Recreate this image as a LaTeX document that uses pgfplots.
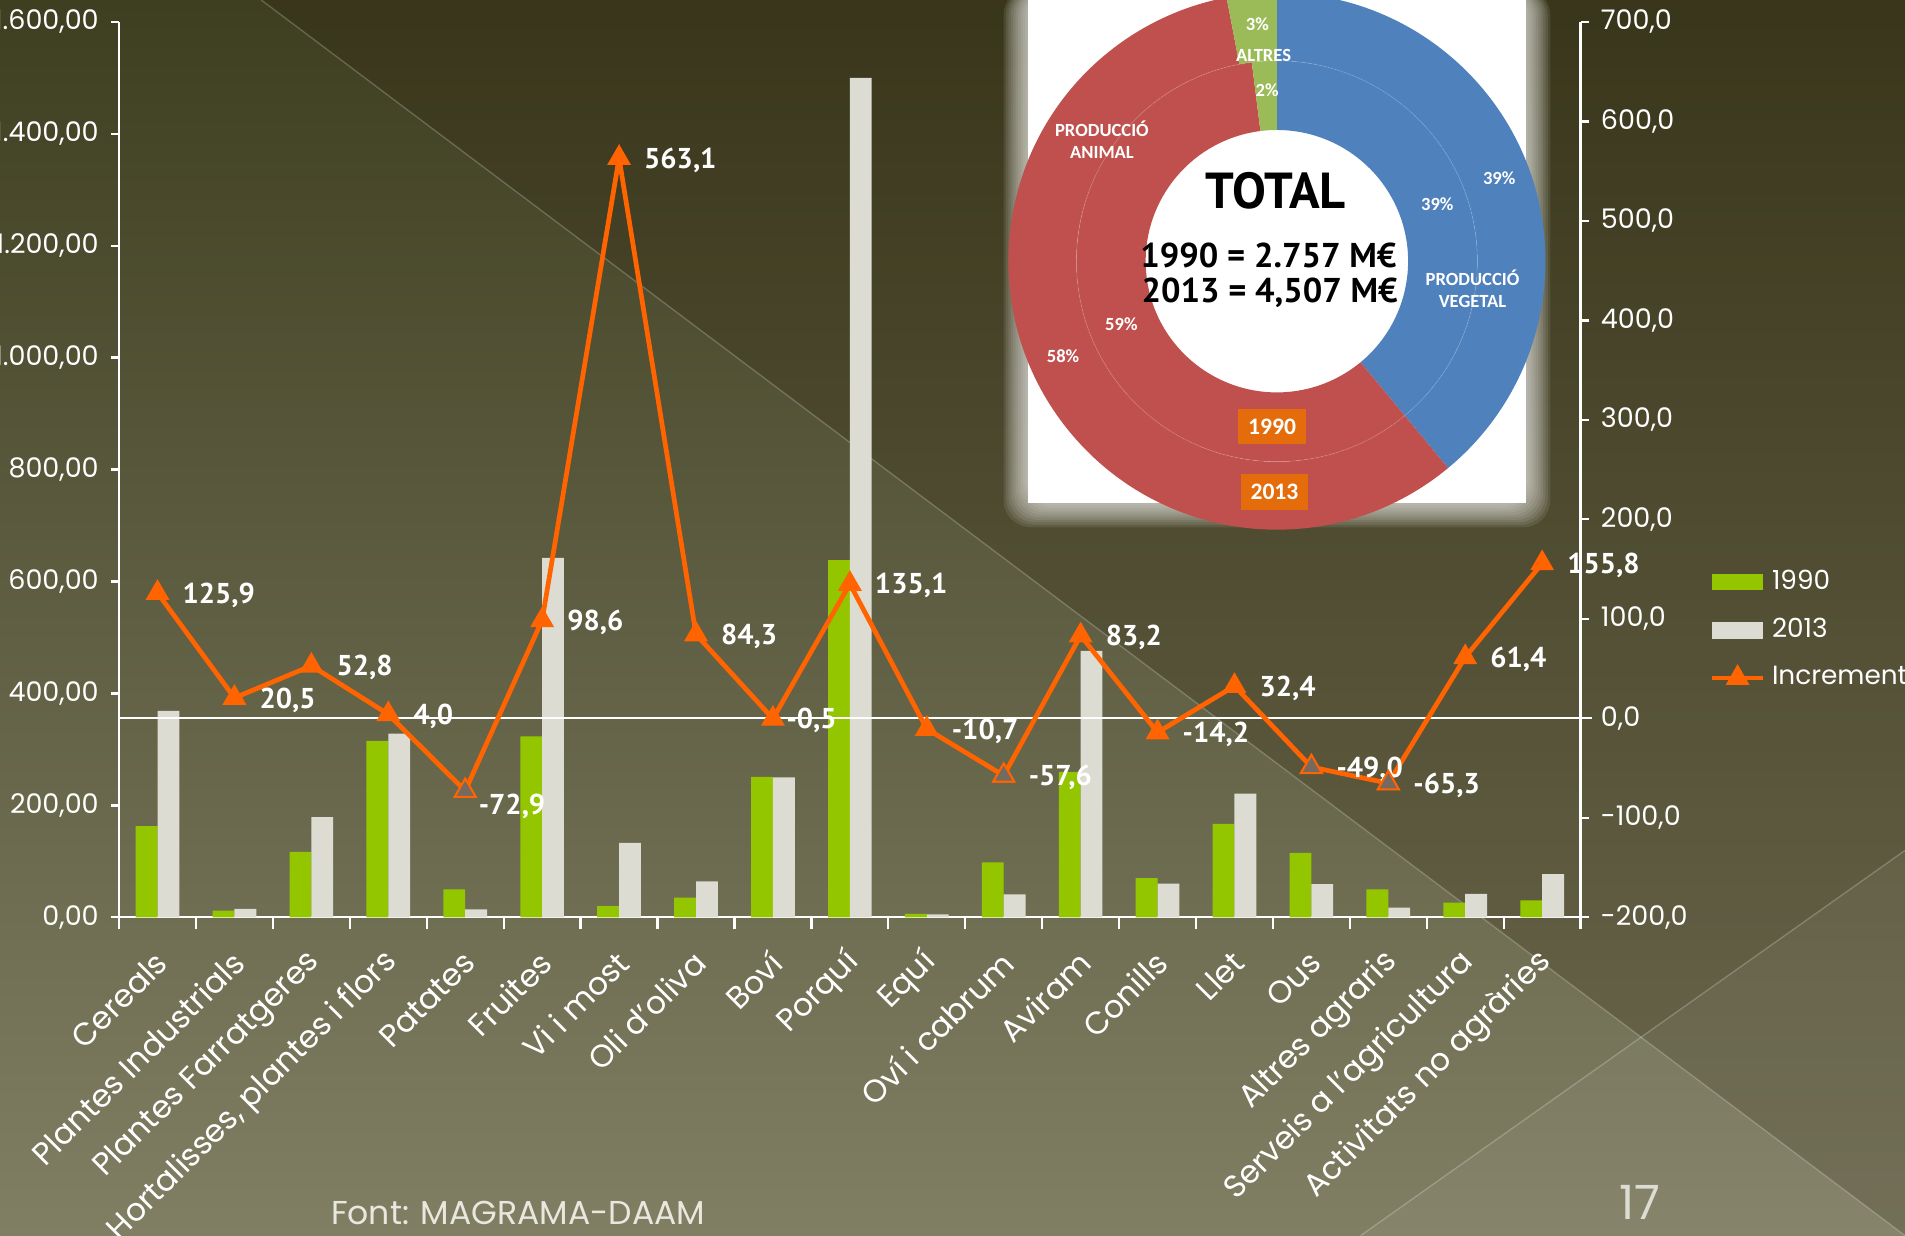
\documentclass[border=0pt]{standalone}
\usepackage{fontspec}
\setmainfont{Poppins}
\newfontfamily\ptsans{PT Sans}
\newfontfamily\carlito{Carlito}
\usepackage{pgfplots}
\usepackage{pgfplotstable}
\pgfplotsset{compat=1.18}

\definecolor{bgtop}{HTML}{3E3E21}
\definecolor{bgbot}{HTML}{807F64}
\definecolor{c1990}{HTML}{94C600}
\definecolor{c2013}{HTML}{DCDCD2}
\definecolor{incr}{HTML}{FF6400}
\definecolor{gmark}{HTML}{746A60}
\definecolor{pvblue}{HTML}{4F81BD}
\definecolor{pared}{HTML}{C0504D}
\definecolor{altgreen}{HTML}{9BBB59}
\definecolor{boxor}{HTML}{E46C0A}

\pgfplotsset{
  barlegend/.style={legend image code/.code={\fill[##1, draw=none] (0pt,-2.4pt) rectangle (15pt,2.4pt);}},
  linelegend/.style={legend image code/.code={\draw[mark repeat=2, mark phase=2, ##1] plot coordinates {(0pt,0pt) (7.5pt,0pt) (15pt,0pt)};}},
}

% valor de la producció (M EUR), increment (%) i desplaçament de l'etiqueta (pt)
\pgfplotstableread{
x v1990 v2013 incr lx ly
0  163  369  125.9 7.2 -0.6
1  12   15   20.5  7.2 -0.6
2  117  179  52.8  7.2 -0.6
3  315  328  4.0   7.2 -0.6
4  50   14   -72.9 3.8 -4.6
5  323  642  98.6  7.2 -0.6
6  20   133  563.1 7.2 -0.6
7  35   64   84.3  7.2 -0.6
8  251  250  -0.5  3.8 -0.6
9  638  1500 135.1 7.2 -0.6
10 6    5    -10.7 7.2 -0.6
11 98   41   -57.6 7.2 -0.6
12 260  476  83.2  7.2 -0.6
13 70   60   -14.2 7.2 -0.6
14 167  221  32.4  7.2 -0.6
15 115  59   -49.0 7.2 -0.6
16 50   17   -65.3 7.2 -0.6
17 26   42   61.4  7.2 -0.6
18 30   77   155.8 7.2 -0.6
}\data

% percentatges del gràfic de donut
\def\pvO{39}\def\paO{58}\def\alO{3}
\def\pvI{39}\def\paI{59}\def\alI{2}

\newcommand\ring[5]{%
  \fill[#1] (#4:#2) -- (#4:#3) arc[start angle=#4, end angle=#5, radius=#3]
    -- (#5:#2) arc[start angle=#5, end angle=#4, radius=#2] -- cycle;}

\begin{document}
\begin{tikzpicture}
\useasboundingbox (0,0) rectangle (564.48pt,366.12pt);
\clip (0,0) rectangle (564.48pt,366.12pt);
\shade[top color=bgtop, bottom color=bgbot] (0,0) rectangle (564.48pt,366.12pt);

\begin{scope}[x=0.36pt, y=-0.36pt, yshift=366.12pt]
  \fill[fill={rgb,255:red,40;green,28;blue,6}, opacity=0.22] (215,0) -- (1568,0) -- (1568,1017) -- cycle;
  \fill[white, opacity=0.05] (1568,700) -- (1120,1017) -- (1568,1017) -- cycle;
  \draw[white, opacity=0.22, line width=0.4pt] (215,0) -- (1568,1017);
  \draw[white, opacity=0.22, line width=0.4pt] (1568,700) -- (1120,1017);

  % requadre blanc difuminat
  \foreach \i in {1,...,10}{
    \fill[white, opacity=0.09, rounded corners=8] ({846-2*\i},-10) rectangle ({1256+2*\i},{414+2*\i});
  }
  \fill[white] (846,-10) rectangle (1256,414);

  % donut
  \begin{scope}[shift={(1051,215)}]
    \pgfmathsetmacro\aO{-90+3.6*\pvO}
    \pgfmathsetmacro\bO{\aO+3.6*\paO}
    \pgfmathsetmacro\aI{-90+3.6*\pvI}
    \pgfmathsetmacro\bI{\aI+3.6*\paI}
    \ring{pvblue}{165}{221}{-90}{\aO}
    \ring{pared}{165}{221}{\aO}{\bO}
    \ring{altgreen}{165}{221}{\bO}{270}
    \ring{pvblue}{108}{165}{-90}{\aI}
    \ring{pared}{108}{165}{\aI}{\bI}
    \ring{altgreen}{108}{165}{\bI}{270}
    \draw[white, opacity=0.12, line width=0.3pt] (0,0) circle[radius=165];
  \end{scope}
  \begin{scope}[font=\carlito\bfseries\fontsize{5.5}{6.5}\selectfont, text=white, align=center]
    \node at (1035,20) {3\%};
    \node at (1040,46) {ALTRES};
    \node at (1043,74) {2\%};
    \node at (907,115) {PRODUCCIÓ\\ANIMAL};
    \node at (1234,147) {39\%};
    \node at (1183,168) {39\%};
    \node at (1212,238) {PRODUCCIÓ\\VEGETAL};
    \node at (923,267) {59\%};
    \node at (875,293) {58\%};
  \end{scope}
  \node[font=\ptsans\bfseries\fontsize{15}{16}\selectfont] at (1050,157) {TOTAL};
  \node[font=\ptsans\bfseries\fontsize{10.2}{12}\selectfont] at (1044,210) {1990 = 2.757 M€};
  \node[font=\ptsans\bfseries\fontsize{10.2}{12}\selectfont] at (1045,241) {2013 = 4,507 M€};
  \node[fill=boxor, text=white, font=\carlito\bfseries\fontsize{7}{8}\selectfont, minimum width=20pt, minimum height=10.5pt, inner sep=1pt] at (1047,351) {1990};
  \node[fill=boxor, text=white, font=\carlito\bfseries\fontsize{7}{8}\selectfont, minimum width=20pt, minimum height=10.5pt, inner sep=1pt] at (1049,405) {2013};

  \node[anchor=west, inner sep=0pt, text={rgb,255:red,232;green,232;blue,222}, font=\fontsize{9.8}{12}\selectfont] at (272,998) {Font: MAGRAMA-DAAM};
  \node[text={rgb,255:red,220;green,220;blue,208}, font=\fontsize{14}{16}\selectfont] at (1350,990) {17};
\end{scope}

\begin{axis}[
  at={(35.28pt,94.32pt)}, anchor=south west,
  width=433.08pt, height=265.32pt, scale only axis,
  xmin=-0.5, xmax=18.5, ymin=0, ymax=1600,
  axis x line*=bottom, axis y line*=left,
  axis line style={white, line width=0.7pt},
  tick align=outside,
  major tick length=2.5pt, minor tick length=3.6pt,
  ytick={0,200,...,1600},
  ytick style={white, line width=0.7pt},
  xtick={0,...,18},
  xticklabels={Cereals, Plantes Industrials, Plantes Farratgeres, {Hortalisses, plantes i flors}, Patates, Fruites, Vi i most, Oli d'oliva, Boví, Porquí, Equí, Oví i cabrum, Aviram, Conills, Llet, Ous, Altres agraris, Serveis a l'agricultura, Activitats no agràries},
  major x tick style={draw=none},
  minor xtick={-0.5,0.5,...,18.5},
  minor x tick style={white, line width=0.7pt},
  /pgf/number format/assume math mode=true,
  y tick label style={font=\fontsize{8}{9}\selectfont, text=white,
    /pgf/number format/.cd, fixed, fixed zerofill, precision=2, use comma, 1000 sep={.}},
  x tick label style={xshift=1.3pt, yshift=-9.3pt, font=\fontsize{9.3}{11}\selectfont, text=white, rotate=45, anchor=east, inner sep=0pt},
  ybar=0pt, bar width=0.284,
  clip=false,
]
\addplot[fill=c1990, draw=none] table[x=x, y=v1990]{\data};
\addplot[fill=c2013, draw=none] table[x=x, y=v2013]{\data};
\end{axis}

\begin{axis}[
  at={(35.28pt,94.32pt)}, anchor=south west,
  width=433.08pt, height=265.32pt, scale only axis,
  xmin=-0.5, xmax=18.5, ymin=-200, ymax=700,
  axis x line=none, axis y line*=right,
  axis line style={white, line width=0.7pt},
  tick align=outside, major tick length=2.5pt,
  ytick={-200,-100,...,700},
  ytick style={white, line width=0.7pt},
  /pgf/number format/assume math mode=true,
  y tick label style={font=\fontsize{8}{9}\selectfont, text=white,
    /pgf/number format/.cd, fixed, fixed zerofill, precision=1, use comma},
  clip=false,
  legend style={at={(1.088,0.396)}, anchor=north west, draw=none, fill=none,
    text=white, font=\fontsize{7.8}{9}\selectfont, row sep=3pt, inner sep=0pt,
    cells={anchor=west}},
]
\addlegendimage{barlegend, fill=c1990}\addlegendentry{1990}
\addlegendimage{barlegend, fill=c2013}\addlegendentry{2013}
\addplot[white, line width=0.6pt, forget plot] coordinates {(-0.5,0) (18.65,0)};
\addplot[incr, line width=1.4pt, linelegend, mark=triangle*, mark size=3.6pt,
  mark options={fill=incr, draw=incr, line width=0.5pt},
  point meta=y,
  visualization depends on={\thisrow{lx} \as \lx},
  visualization depends on={\thisrow{ly} \as \ly},
  nodes near coords={\pgfmathprintnumber[fixed, fixed zerofill, precision=1, use comma]{\pgfplotspointmeta}},
  every node near coord/.append style={anchor=west, xshift=\lx pt, yshift=\ly pt, inner sep=0pt,
    text=white, font=\ptsans\bfseries\fontsize{8.5}{10}\selectfont}]
  table[x=x, y=incr]{\data};
\addlegendentry{Increment}
\addplot[only marks, mark=triangle*, mark size=3.6pt, mark options={fill=gmark, draw=incr, line width=0.6pt}, forget plot]
  coordinates {(4,-72.9) (11,-57.6) (15,-49.0) (16,-65.3)};
\end{axis}
\end{tikzpicture}
\end{document}
